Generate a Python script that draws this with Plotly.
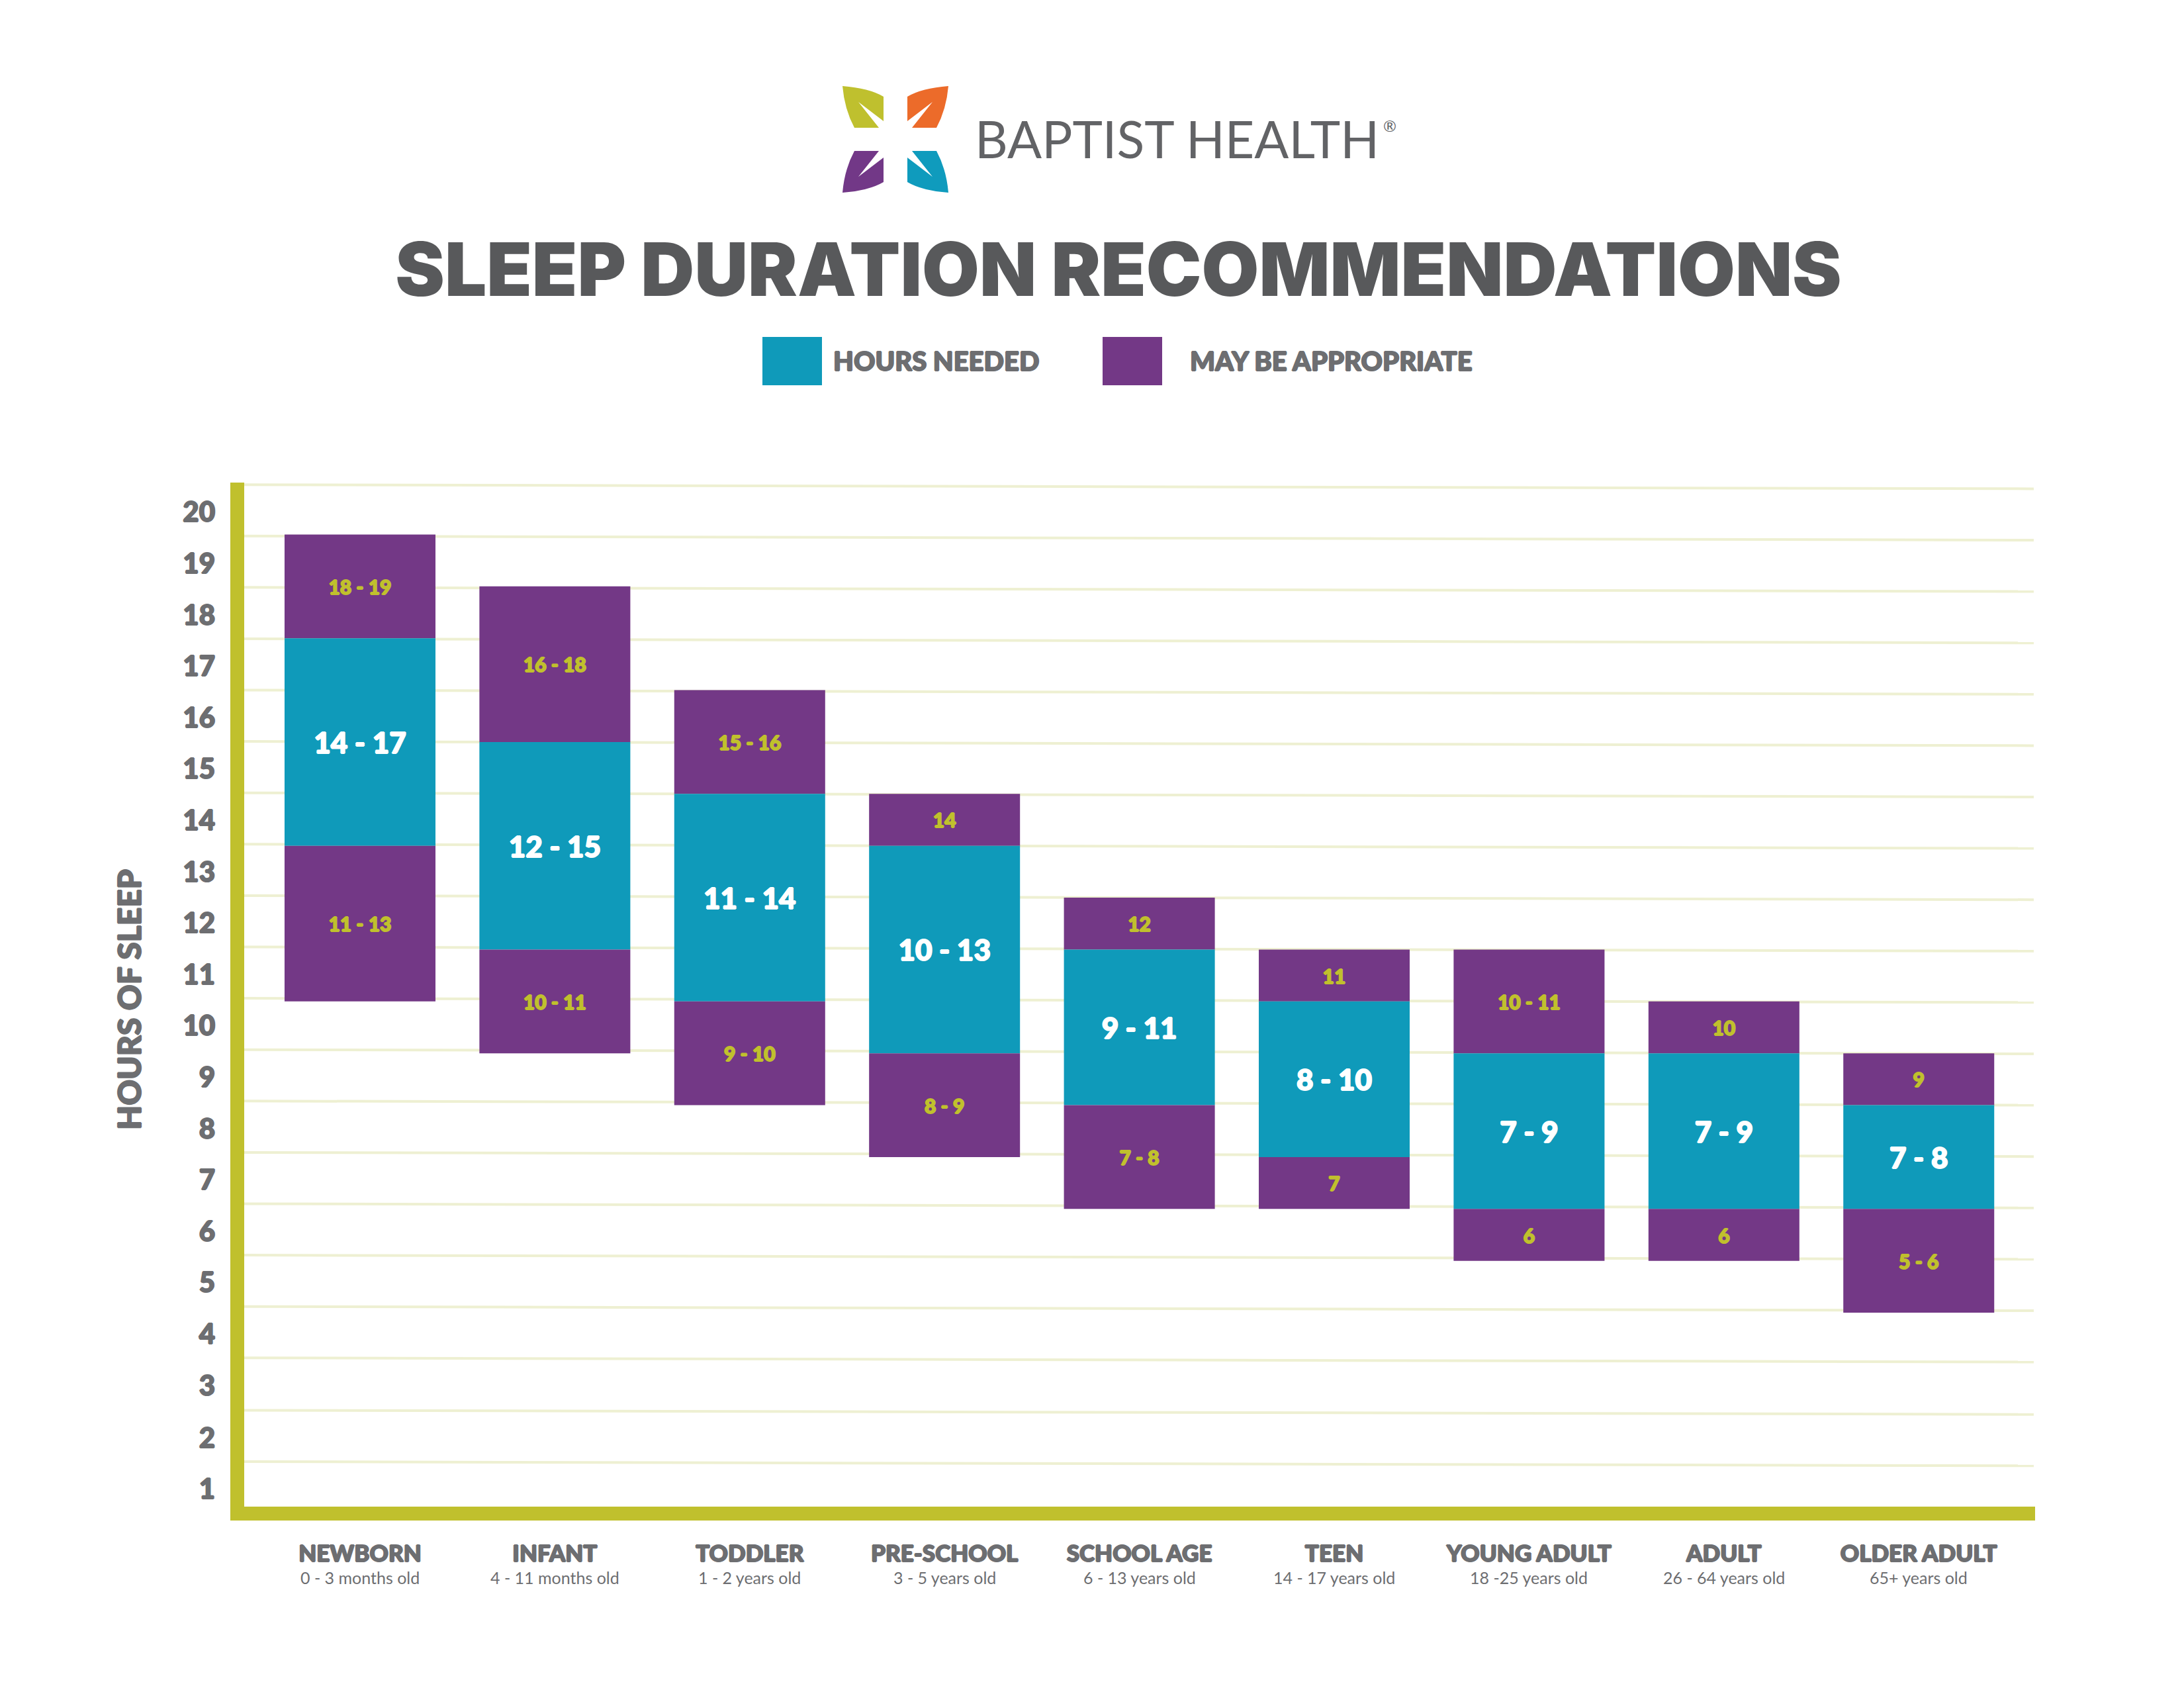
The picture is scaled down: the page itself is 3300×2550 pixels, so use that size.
import plotly.graph_objects as go

# picture size in pixels
W = 3300
H = 2550

categories = ["NEWBORN", "INFANT", "TODDLER", "PRE-SCHOOL", "SCHOOL AGE", "TEEN", "YOUNG ADULT", "ADULT", "OLDER ADULT"]
ages = ["0 - 3 months old", "4 - 11 months old", "1 - 2 years old", "3 - 5 years old", "6 - 13 years old",
        "14 - 17 years old", "18 -25 years old", "26 - 64 years old", "65+ years old"]

# hours needed
needed_low = [14, 12, 11, 10, 9, 8, 7, 7, 7]
needed_high = [17, 15, 14, 13, 11, 10, 9, 9, 8]
# may be appropriate, above and below
upper_low = [18, 16, 15, 14, 12, 11, 10, 10, 9]
upper_high = [19, 18, 16, 14, 12, 11, 11, 10, 9]
lower_low = [11, 10, 9, 8, 7, 7, 6, 6, 5]
lower_high = [13, 11, 10, 9, 8, 7, 6, 6, 6]

tick_labels = list(range(20, 0, -1))
# the printed rules sit a little off the hour scale and run slightly downhill
rule_left = [19.96, 18.97, 17.98, 16.99, 16.00, 15.01, 14.02, 13.03, 12.04, 11.05,
             10.06, 9.07, 8.08, 7.09, 6.10, 5.11, 4.12, 3.13, 2.12, 1.13]
rule_drop = 0.08
tick_pos = [r - 0.53 for r in rule_left]

TEAL = "#0f9aba"
PURPLE = "#733886"
OLIVE = "#c0c02d"
RULE = "#eef0d2"
GREY = "#6d6e71"
DARK = "#58595b"
FONT = "Lato"
positions = list(range(len(categories)))


def px(x):
  return x / W


def py(y):
  return 1 - y / H


def heavy(color, r=1):
  # no black weight of the font here, so thicken it with a tight shadow
  return "{0}px 0 0 {1}, -{0}px 0 0 {1}, 0 {0}px 0 {1}, 0 -{0}px 0 {1}".format(r, color)


def range_label(low, high):
  if low == high:
    return str(low)
  return str(low) + " - " + str(high)


def addBand(fig, low, high, color, size, text_color):
  fig.add_trace(go.Bar(
    x=positions,
    y=[h - l + 1 for l, h in zip(low, high)],
    base=[l - 1 for l in low],
    width=0.7745,
    marker=dict(color=color, line=dict(width=0)),
    text=[range_label(l, h) for l, h in zip(low, high)],
    textposition="inside",
    insidetextanchor="middle",
    textangle=0,
    constraintext="none",
    textfont=dict(family=FONT, size=size, color=text_color, weight=900, shadow=heavy(text_color)),
    showlegend=False,
    hoverinfo="skip",
  ))


def leaf(sx, sy, color):
  # one logo leaf, drawn for the upper left and flipped for the rest
  cx, cy = 1353, 210.5
  pts = [(1273, 130), (1313, 133), (1335, 146), (1335, 183), (1297, 154), (1328, 193), (1291, 193), (1276, 165)]
  p = [(px(cx + sx * (a - cx)), py(cy + sy * (b - cy))) for a, b in pts]
  path = "M {} {} Q {} {} {} {} L {} {} L {} {} L {} {} L {} {} Q {} {} {} {} Z".format(
    *p[0], *p[1], *p[2], *p[3], *p[4], *p[5], *p[6], *p[7], *p[0])
  return dict(type="path", xref="paper", yref="paper", path=path, fillcolor=color, line=dict(width=0))


def swatch(x0, x1, color):
  return dict(type="rect", xref="paper", yref="paper", x0=px(x0), x1=px(x1), y0=py(582), y1=py(509),
              fillcolor=color, line=dict(width=0))


def label(x, y, text, size, color=GREY, weight=900, shadow="none"):
  return dict(xref="paper", yref="paper", x=px(x), y=py(y), text=text, showarrow=False, xanchor="left",
              yanchor="middle", font=dict(family=FONT, size=size, color=color, weight=weight, shadow=shadow))


fig = go.Figure()

addBand(fig, upper_low, upper_high, PURPLE, 30, OLIVE)
addBand(fig, needed_low, needed_high, TEAL, 44, "white")
addBand(fig, lower_low, lower_high, PURPLE, 30, OLIVE)

# rules as shapes below the traces so the bars cover them
rules = [dict(type="line", xref="x", yref="y", layer="below", x0=-0.596, x1=8.59, y0=r, y1=r - rule_drop,
              line=dict(color=RULE, width=4)) for r in rule_left]

annotations = [
  label(1471, 209, "BAPTIST HEALTH", 77, color="#626366", weight=400),
  label(2088, 190, "®", 24, color="#626366", weight=400),
  label(1257, 545, "HOURS NEEDED", 40, shadow=heavy(GREY)),
  label(1796, 545, "MAY BE APPROPRIATE", 40, shadow=heavy(GREY)),
  dict(xref="paper", yref="paper", x=px(194), y=py(1510), xanchor="center", yanchor="middle",
       text="HOURS OF SLEEP", textangle=-90, showarrow=False,
       font=dict(family=FONT, size=48, color=GREY, weight=900, shadow=heavy(GREY))),
]
for i in positions:
  annotations.append(dict(xref="x", yref="paper", x=i, y=py(2383), text=ages[i], showarrow=False,
                          xanchor="center", yanchor="middle", font=dict(family=FONT, size=25, color=GREY)))

fig.update_layout(
  width=W,
  height=H,
  margin=dict(l=0, r=0, t=0, b=0),
  paper_bgcolor="white",
  plot_bgcolor="white",
  barmode="overlay",
  title=dict(text="SLEEP DURATION RECOMMENDATIONS", x=1690 / W, y=py(408), xanchor="center", yanchor="middle",
             font=dict(family="Inter", size=112, color=DARK, weight=900)),
  xaxis=dict(
    domain=[px(368.5), px(3075)],
    range=[-0.596, 8.597],
    showgrid=False,
    zeroline=False,
    showline=True,
    linecolor=OLIVE,
    linewidth=21,
    ticks="",
    tickmode="array",
    tickvals=positions,
    ticktext=categories,
    ticklabelstandoff=20,
    tickfont=dict(family=FONT, size=35, color=GREY, weight=900, shadow=heavy(GREY)),
    tickangle=0,
  ),
  yaxis=dict(
    domain=[py(2276), py(729)],
    range=[0.263, 20],
    showgrid=False,
    zeroline=False,
    showline=True,
    linecolor=OLIVE,
    linewidth=21,
    ticks="",
    tickmode="array",
    tickvals=tick_pos,
    ticktext=[str(t) for t in tick_labels],
    ticklabelstandoff=14,
    tickfont=dict(family=FONT, size=42, color=GREY, weight=900, shadow=heavy(GREY)),
  ),
  shapes=rules + [
    leaf(1, 1, "#bfc02e"),
    leaf(-1, 1, "#ec6b2a"),
    leaf(1, -1, "#723887"),
    leaf(-1, -1, "#0f9bbd"),
    swatch(1152, 1242, TEAL),
    swatch(1666, 1756, PURPLE),
  ],
  annotations=annotations,
)

fig.write_html("out.html", config=dict(displayModeBar=False), post_script="document.body.style.margin='0';")
